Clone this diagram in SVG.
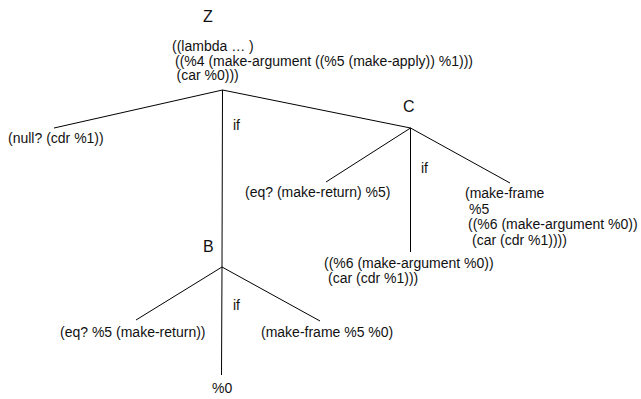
<svg xmlns="http://www.w3.org/2000/svg" width="641" height="399" viewBox="0 0 641 399">
<style>
text{font-family:"Liberation Sans",Arial,sans-serif;fill:#111}
.t{font-size:14px}
.n{font-size:16px}
.e{stroke:#000;stroke-width:1;fill:none}
</style>
<rect width="641" height="399" fill="#fff"/>
<g id="connectors">
<line class="e" x1="222.5" y1="90" x2="54" y2="128"/>
<line class="e" x1="222.5" y1="90" x2="222" y2="267"/>
<line class="e" x1="222.5" y1="90" x2="410.5" y2="128"/>
<line class="e" x1="410.5" y1="128" x2="326" y2="182"/>
<line class="e" x1="410.5" y1="128" x2="410.5" y2="252"/>
<line class="e" x1="410.5" y1="128" x2="510" y2="183"/>
<line class="e" x1="222" y1="267" x2="136" y2="320"/>
<line class="e" x1="222" y1="267" x2="221.5" y2="375"/>
<line class="e" x1="222" y1="267" x2="320" y2="321"/>
<text class="t" x="233" y="130">if</text>
<text class="t" x="421" y="173">if</text>
<text class="t" x="233" y="310">if</text>
</g>
<g id="node-Z">
<text class="n" x="203" y="22">Z</text>
<text class="t" x="172" y="51">((lambda … )</text>
<text class="t" x="175" y="65.5">((%4 (make-argument ((%5 (make-apply)) %1)))</text>
<text class="t" x="176.5" y="80">(car %0)))</text>
</g>
<g id="node-null">
<text class="t" x="8" y="143">(null? (cdr %1))</text>
</g>
<g id="node-C">
<text class="n" x="403" y="112">C</text>
</g>
<g id="node-eq-return">
<text class="t" x="245" y="197">(eq? (make-return) %5)</text>
</g>
<g id="node-frame">
<text class="t" x="465" y="198">(make-frame</text>
<text class="t" x="469" y="213.5">%5</text>
<text class="t" x="468" y="229">((%6 (make-argument %0))</text>
<text class="t" x="472" y="244.5">(car (cdr %1))))</text>
</g>
<g id="node-arg">
<text class="t" x="324" y="268">((%6 (make-argument %0))</text>
<text class="t" x="328" y="283">(car (cdr %1)))</text>
</g>
<g id="node-B">
<text class="n" x="203" y="252">B</text>
</g>
<g id="node-eq5">
<text class="t" x="60" y="337">(eq? %5 (make-return))</text>
</g>
<g id="node-frame2">
<text class="t" x="261" y="337">(make-frame %5 %0)</text>
</g>
<g id="node-0">
<text class="t" x="212" y="393">%0</text>
</g>
</svg>
